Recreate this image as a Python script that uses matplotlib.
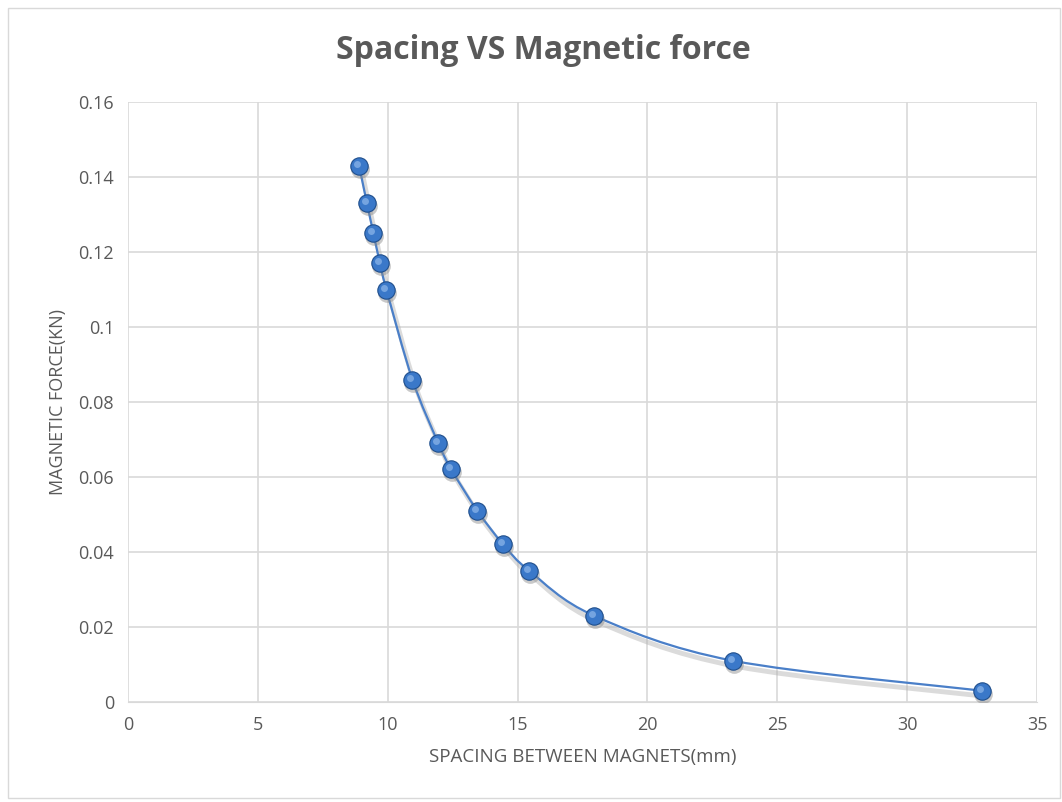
import numpy as np
import matplotlib
matplotlib.use("Agg")
import matplotlib.pyplot as plt
from matplotlib.path import Path
from matplotlib.patches import PathPatch, Rectangle
import matplotlib.patheffects as pe
import matplotlib.transforms as mtransforms

plt.rcParams['font.family'] = ['Open Sans', 'DejaVu Sans']

# spacing (mm) and force (kN)
spacing = [8.9, 9.2, 9.45, 9.7, 9.95, 10.95, 11.95, 12.45, 13.45, 14.45, 15.45, 17.95, 23.3, 32.9]
force = [0.143, 0.133, 0.125, 0.117, 0.110, 0.086, 0.069, 0.062, 0.051, 0.042, 0.035, 0.023, 0.011, 0.003]

xticks = [0, 5, 10, 15, 20, 25, 30, 35]
yticks = [0, 0.02, 0.04, 0.06, 0.08, 0.1, 0.12, 0.14, 0.16]
yticklabels = ["0", "0.02", "0.04", "0.06", "0.08", "0.1", "0.12", "0.14", "0.16"]

grey = "#595959"

fig = plt.figure(figsize=(10.62, 8.02), dpi=100)
ax = fig.add_axes([0.1205, 0.1247, 0.856, 0.7481])

# excel-like smoothed line: cubic bezier through the points (catmull-rom style)
x = np.array(spacing)
y = np.array(force)
verts = [(x[0], y[0])]
codes = [Path.MOVETO]
t = 1.0 / 6.0
for i in range(len(x) - 1):
    x0, y0 = (x[i - 1], y[i - 1]) if i > 0 else (x[i], y[i])
    x3, y3 = (x[i + 2], y[i + 2]) if i + 2 < len(x) else (x[i + 1], y[i + 1])
    c1 = (x[i] + (x[i + 1] - x0) * t, y[i] + (y[i + 1] - y0) * t)
    c2 = (x[i + 1] - (x3 - x[i]) * t, y[i + 1] - (y3 - y[i]) * t)
    verts += [c1, c2, (x[i + 1], y[i + 1])]
    codes += [Path.CURVE4, Path.CURVE4, Path.CURVE4]
curve = PathPatch(Path(verts, codes), facecolor="none", edgecolor="#4a7fc8", lw=1.6, zorder=3,
                  path_effects=[pe.SimpleLineShadow(offset=(2, -4), shadow_color="#b0b0b0", alpha=0.45, linewidth=3.5),
                                pe.Normal()])
ax.add_patch(curve)

# marker shadows then markers
shadow_off = ax.transData + mtransforms.ScaledTranslation(1 / 100, -3 / 100, fig.dpi_scale_trans)
hl_off = ax.transData + mtransforms.ScaledTranslation(-2 / 100, 2 / 100, fig.dpi_scale_trans)
ax.plot(spacing, force, "o", ms=13.5, color="#888888", alpha=0.45, mec="none", zorder=4, transform=shadow_off)
ax.plot(spacing, force, "o", ms=12.5, color="#3a78c9", mec="#1f4e8c", mew=0.8, zorder=5)
ax.plot(spacing, force, "o", ms=5, color="#8fb8ea", mec="none", alpha=0.7, zorder=6, transform=hl_off)

ax.set_xlim(0, 35)
ax.set_ylim(0, 0.16)
ax.set_xticks(xticks)
ax.set_yticks(yticks)
ax.set_yticklabels(yticklabels)
ax.grid(True, color="#d9d9d9", lw=1.2)
ax.set_axisbelow(True)
for s in ["top", "right", "left"]:
    ax.spines[s].set_visible(False)
ax.spines["bottom"].set_color("#d9d9d9")
ax.tick_params(length=0, colors=grey, labelsize=13, pad=10)

ax.set_xlabel("SPACING BETWEEN MAGNETS(mm)", color=grey, fontsize=13.5, labelpad=10)
ax.set_ylabel("MAGNETIC FORCE(KN)", color=grey, fontsize=13, labelpad=8)
fig.text(0.512, 0.937, "Spacing VS Magnetic force", ha="center", va="center",
         fontsize=23, fontweight="bold", color=grey)

fig.patches.append(Rectangle((0.008, 0.005), 0.99, 0.985, transform=fig.transFigure,
                             fill=False, edgecolor="#d9d9d9", lw=1))

fig.savefig("out.png", dpi=100)
